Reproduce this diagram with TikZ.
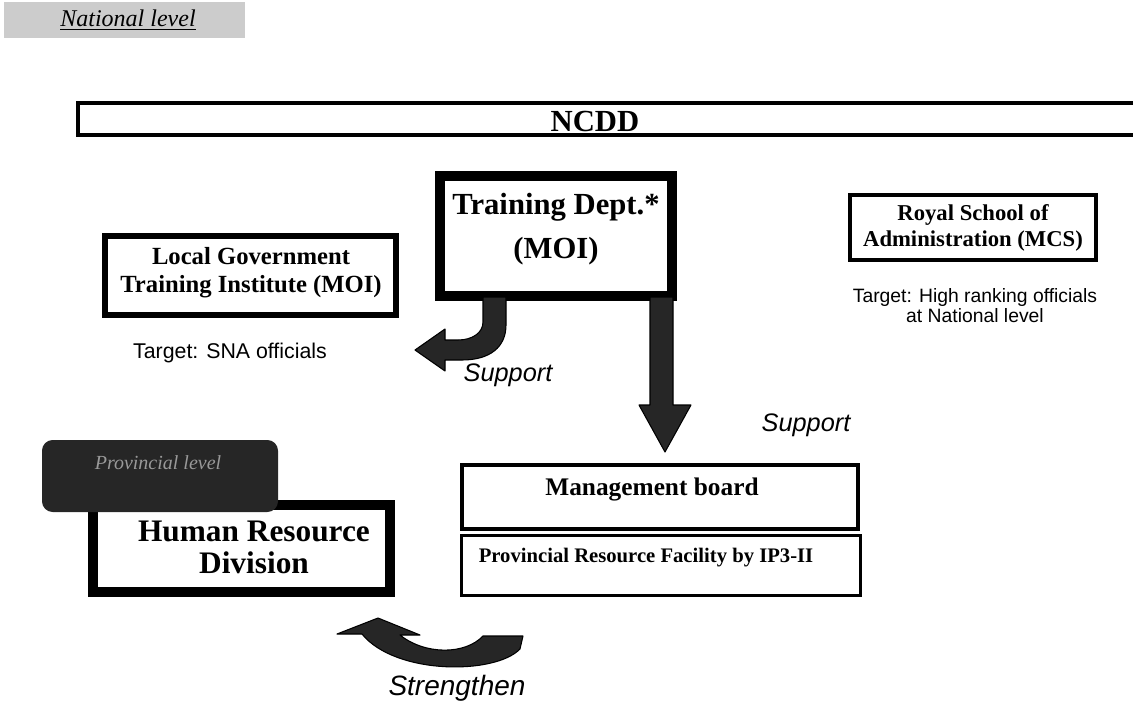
\documentclass[tikz,border=0pt]{standalone}
\usepackage{fontspec}
\setmainfont{Liberation Serif}
\setsansfont{Liberation Sans}
\usetikzlibrary{calc,positioning}
\definecolor{darkfill}{gray}{0.15}
\definecolor{stipple}{gray}{0.8}

\begin{document}
\begin{tikzpicture}[x=0.75pt,y=-0.75pt]

\tikzset{heading/.style={font=\bfseries,align=center,inner sep=0pt},
target/.style={font=\sffamily,align=center,inner sep=0pt},
arrowlabel/.style={font=\sffamily\itshape,inner sep=0pt},
blockarrow/.style={fill=darkfill,draw=black,line width=0.8pt,line join=round}}

\useasboundingbox (0,0) rectangle (1133,707);

% National level tab
\fill[stipple] (4,2) rectangle (245,38);
\node[font=\fontsize{18}{20}\selectfont\itshape,inner sep=0pt] (natlevel) at (128,20) {\underline{National level}};

% NCDD
\draw[line width=3.5pt] (1150,103) -- (78,103) -- (78,135) -- (1150,135);
\node[heading,font=\fontsize{23}{26}\selectfont\bfseries] (ncdd) at (595,121) {NCDD};

% Training Dept.
\draw[line width=7pt] (440,176) rectangle (672,296);
\node[heading,font=\fontsize{23}{33}\selectfont\bfseries] (train) at (556,229) {Training Dept.*\\(MOI)};

% Local Government Training Institute
\draw[line width=4pt] (105,236) rectangle (396,315);
\node[heading,font=\fontsize{18.5}{21}\selectfont\bfseries] (lgti) at (251,273) {Local Government\\Training Institute (MOI)};
\node[target,font=\fontsize{16}{18}\selectfont\sffamily] (lgtitarget) at (230,353) {Target: SNA officials};

% Royal School of Administration
\draw[line width=3.5pt] (850,195) rectangle (1096,260);
\node[heading,font=\fontsize{17}{19}\selectfont\bfseries] (rsa) at (973,228) {Royal School of\\Administration (MCS)};
\node[target,font=\fontsize{14.5}{15}\selectfont\sffamily] (rsatarget) at (975,306) {Target: High ranking officials\\at National level};

% Provincial level tab and Human Resource Division
\draw[line width=7.5pt] (93,505) rectangle (390,592);
\fill[darkfill,rounded corners=8pt] (42,440) rectangle (278,512);
\node[font=\fontsize{15}{17}\selectfont\itshape,text=black!40,inner sep=0pt] (provlevel) at (158,463) {Provincial level};
\node[heading,font=\fontsize{23.5}{24}\selectfont\bfseries] (hrd) at (254,547) {Human Resource\\Division};

% Management board / PRF
\draw[line width=3pt] (462,465) rectangle (858,529);
\draw[line width=2.2pt] (461.5,535.5) rectangle (860.5,595.5);
\node[heading,font=\fontsize{19}{21}\selectfont\bfseries] (mgmt) at (652,490) {Management board};
\node[heading,font=\fontsize{15.5}{17}\selectfont\bfseries] (prf) at (646,558) {Provincial Resource Facility by IP3-II};

% Block arrows
\draw[blockarrow] (483,297) -- (483,322) .. controls (483,333) and (472,340) .. (458,340) -- (445,340) -- (445,329)
  -- (415,350) -- (445,371) -- (445,360) -- (462,360) .. controls (490,360) and (506,347) .. (506,325) -- (506,297) -- cycle;
\draw[blockarrow] (650,297) -- (650,405) -- (639,405) -- (665,452) -- (691,405) -- (673,405) -- (673,297) -- cycle;
\draw[blockarrow] (483,636) -- (523,636) -- (520,649) .. controls (495,675) and (395,675) .. (362,634) -- (337,634)
  -- (378,618) -- (420,635) -- (400,635) .. controls (425,655) and (465,655) .. (483,636) -- cycle;

% Arrow labels
\node[arrowlabel,font=\fontsize{19}{21}\selectfont\sffamily\itshape] (support1) at (508,375) {Support};
\node[arrowlabel,font=\fontsize{19}{21}\selectfont\sffamily\itshape] (support2) at (806,425) {Support};
\node[arrowlabel,font=\fontsize{21}{23}\selectfont\sffamily\itshape] (strength) at (457,688) {Strengthen};

\end{tikzpicture}
\end{document}
